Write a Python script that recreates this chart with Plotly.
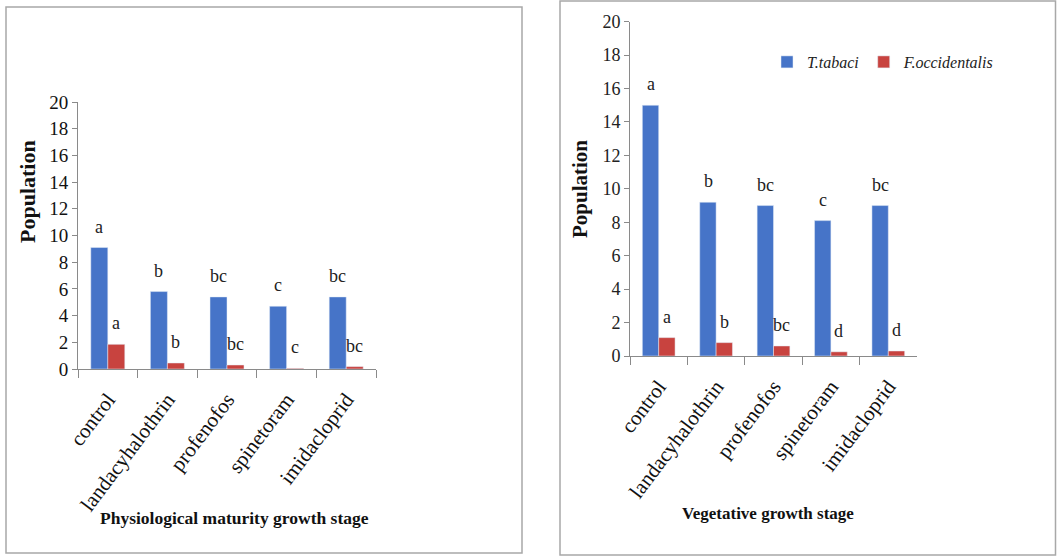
import plotly.graph_objects as go

categories = ["control", "landacyhalothrin", "profenofos", "spinetoram", "imidacloprid"]

# Physiological maturity growth stage (left panel)
phys_tabaci = [9.1, 5.8, 5.4, 4.7, 5.4]
phys_occid = [1.85, 0.45, 0.3, 0.05, 0.18]
phys_tabaci_letters = ["a", "b", "bc", "c", "bc"]
phys_occid_letters = ["a", "b", "bc", "c", "bc"]

# Vegetative growth stage (right panel)
veg_tabaci = [15.0, 9.2, 9.0, 8.1, 9.0]
veg_occid = [1.1, 0.8, 0.6, 0.25, 0.3]
veg_tabaci_letters = ["a", "b", "bc", "c", "bc"]
veg_occid_letters = ["a", "b", "bc", "d", "d"]

series_names = ["<i>T.tabaci</i>", "<i>F.occidentalis</i>"]
y_ticks = list(range(0, 21, 2))

BLUE = "#4674C8"
RED = "#C8433F"
SERIF = "Liberation Serif, Times New Roman, serif"
W, H = 1057, 557

fig = go.Figure()

fig.add_trace(go.Bar(x=categories, y=phys_tabaci, name=series_names[0], marker_color=BLUE,
                     xaxis="x", yaxis="y", showlegend=False, offsetgroup="a"))
fig.add_trace(go.Bar(x=categories, y=phys_occid, name=series_names[1], marker_color=RED,
                     xaxis="x", yaxis="y", showlegend=False, offsetgroup="b"))
fig.add_trace(go.Bar(x=categories, y=veg_tabaci, name=series_names[0], marker_color=BLUE,
                     xaxis="x2", yaxis="y2", offsetgroup="a"))
fig.add_trace(go.Bar(x=categories, y=veg_occid, name=series_names[1], marker_color=RED,
                     xaxis="x2", yaxis="y2", offsetgroup="b"))

annotations = []
def add_letters(vals, letters, xref, yref, shift):
    for c, v, t in zip(categories, vals, letters):
        annotations.append(dict(x=c, y=v, text=t, xref=xref, yref=yref, showarrow=False,
                                xanchor="center", xshift=shift, yanchor="bottom", yshift=9,
                                font=dict(family=SERIF, size=18, color="#222")))

add_letters(phys_tabaci, phys_tabaci_letters, "x", "y", -8.5)
add_letters(phys_occid, phys_occid_letters, "x", "y", 8.5)
add_letters(veg_tabaci, veg_tabaci_letters, "x2", "y2", -8)
add_letters(veg_occid, veg_occid_letters, "x2", "y2", 8)

def px(x):
    return x / W
def py(y):
    return 1 - y / H

# axis titles
annotations += [
    dict(text="<b>Population</b>", x=px(27), y=py(192), xref="paper", yref="paper", showarrow=False,
         xanchor="center", yanchor="middle", textangle=-90, font=dict(family=SERIF, size=22, color="#111")),
    dict(text="<b>Physiological maturity growth stage</b>", x=px(234), y=py(518), xref="paper", yref="paper",
         xanchor="center", yanchor="middle", showarrow=False, font=dict(family=SERIF, size=17.5, color="#111")),
    dict(text="<b>Population</b>", x=px(580), y=py(189), xref="paper", yref="paper", showarrow=False,
         xanchor="center", yanchor="middle", textangle=-90, font=dict(family=SERIF, size=21, color="#111")),
    dict(text="<b>Vegetative growth stage</b>", x=px(768), y=py(513), xref="paper", yref="paper",
         xanchor="center", yanchor="middle", showarrow=False, font=dict(family=SERIF, size=17, color="#111")),
]

shapes = [
    dict(type="rect", xref="paper", yref="paper", x0=px(6), x1=px(522), y0=py(553), y1=py(7),
         line=dict(color="#a8a8a8", width=1.5)),
    dict(type="rect", xref="paper", yref="paper", x0=px(560), x1=px(1055.5), y0=py(555), y1=py(1),
         line=dict(color="#a8a8a8", width=1.5)),
]

xax = dict(type="category", showline=True, linecolor="#8a8a8a", linewidth=1, ticks="outside",
           tickson="boundaries", ticklen=8, tickcolor="#8a8a8a", tickangle=-53, showgrid=False,
           automargin=False, ticklabelstandoff=9, tickfont=dict(family=SERIF, size=21, color="#111"))
yax = dict(range=[0, 20], tickvals=y_ticks, showline=True, linecolor="#8a8a8a", linewidth=1,
           ticks="outside", ticklen=5, tickcolor="#8a8a8a", showgrid=False, zeroline=False,
           automargin=False, tickfont=dict(family=SERIF, size=19, color="#111"))

fig.update_layout(
    width=W, height=H, margin=dict(l=0, r=0, t=0, b=0, autoexpand=False),
    paper_bgcolor="white", plot_bgcolor="white",
    barmode="group", bargap=0.43, bargroupgap=0,
    xaxis=dict(xax, domain=[px(78), px(376)], anchor="y"),
    yaxis=dict(yax, domain=[py(369), py(102)], anchor="x"),
    xaxis2=dict(xax, domain=[px(630), px(917)], anchor="y2"),
    yaxis2=dict(yax, domain=[py(356), py(21.7)], anchor="x2",
                tickfont=dict(family=SERIF, size=18, color="#222")),
    legend=dict(orientation="h", x=px(767), y=py(62), xanchor="left", yanchor="middle",
                font=dict(family=SERIF, size=16, color="#222"), bgcolor="rgba(0,0,0,0)",
                itemwidth=30, tracegroupgap=0),
    annotations=annotations, shapes=shapes,
)

fig.write_html("out.html", config={"displayModeBar": False},
               post_script="document.body.style.margin='0px';")
